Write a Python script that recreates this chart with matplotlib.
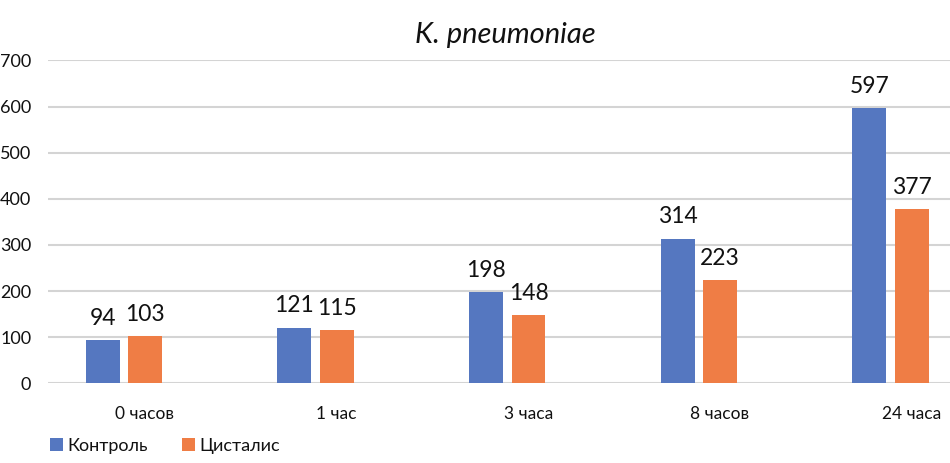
import matplotlib
matplotlib.use("Agg")
import matplotlib.pyplot as plt
import numpy as np

categories = ["0 часов", "1 час", "3 часа", "8 часов", "24 часа"]
control = [94, 121, 198, 314, 597]
cystalis = [103, 115, 148, 223, 377]
series_names = ["Контроль", "Цисталис"]
yticks = [0, 100, 200, 300, 400, 500, 600, 700]
title = "K. pneumoniae"

plt.rcParams['font.family'] = ['Lato', 'DejaVu Sans']

blue = '#5577c0'
orange = '#ef7d45'
txt = '#111111'

fig = plt.figure(figsize=(9.5, 4.63), dpi=100)
ax = fig.add_axes([48/950, 79.7/463, 1 - 48/950, 322.8/463])

x = np.arange(len(categories))
w = 0.177
off = 0.111
b1 = ax.bar(x - off, control, w, color=blue, label=series_names[0], zorder=3)
b2 = ax.bar(x + off, cystalis, w, color=orange, label=series_names[1], zorder=3)

ax.bar_label(b1, padding=8, fontsize=16.5, color=txt)
ax.bar_label(b2, padding=8, fontsize=16.5, color=txt)

ax.set_xlim(-0.396, 4.31)
ax.set_ylim(0, 700)
ax.set_yticks(yticks)
ax.set_yticklabels([str(v) for v in yticks], fontsize=13, color=txt)
ax.set_xticks(x + 0.11)
ax.set_xticklabels(categories, fontsize=12.5, color=txt)
ax.tick_params(axis='both', length=0)
ax.tick_params(axis='y', pad=12)
ax.tick_params(axis='x', pad=16)

ax.grid(axis='y', color='#d4d4d4', linewidth=1.5, zorder=0)
ax.set_axisbelow(True)
for s in ax.spines.values():
    s.set_visible(False)

fig.text(505/950, 420/463, title, ha='center', va='baseline', fontsize=21,
         style='italic', color=txt)

fig.legend(handles=[b1, b2], labels=series_names, loc='center left',
           bbox_to_anchor=(50/950, 17/463), ncol=2, frameon=False,
           fontsize=13, handlelength=0.7, handleheight=0.7,
           handletextpad=0.25, columnspacing=1.9, borderpad=0,
           borderaxespad=0, labelcolor=txt)

fig.savefig("out.png", dpi=100)
